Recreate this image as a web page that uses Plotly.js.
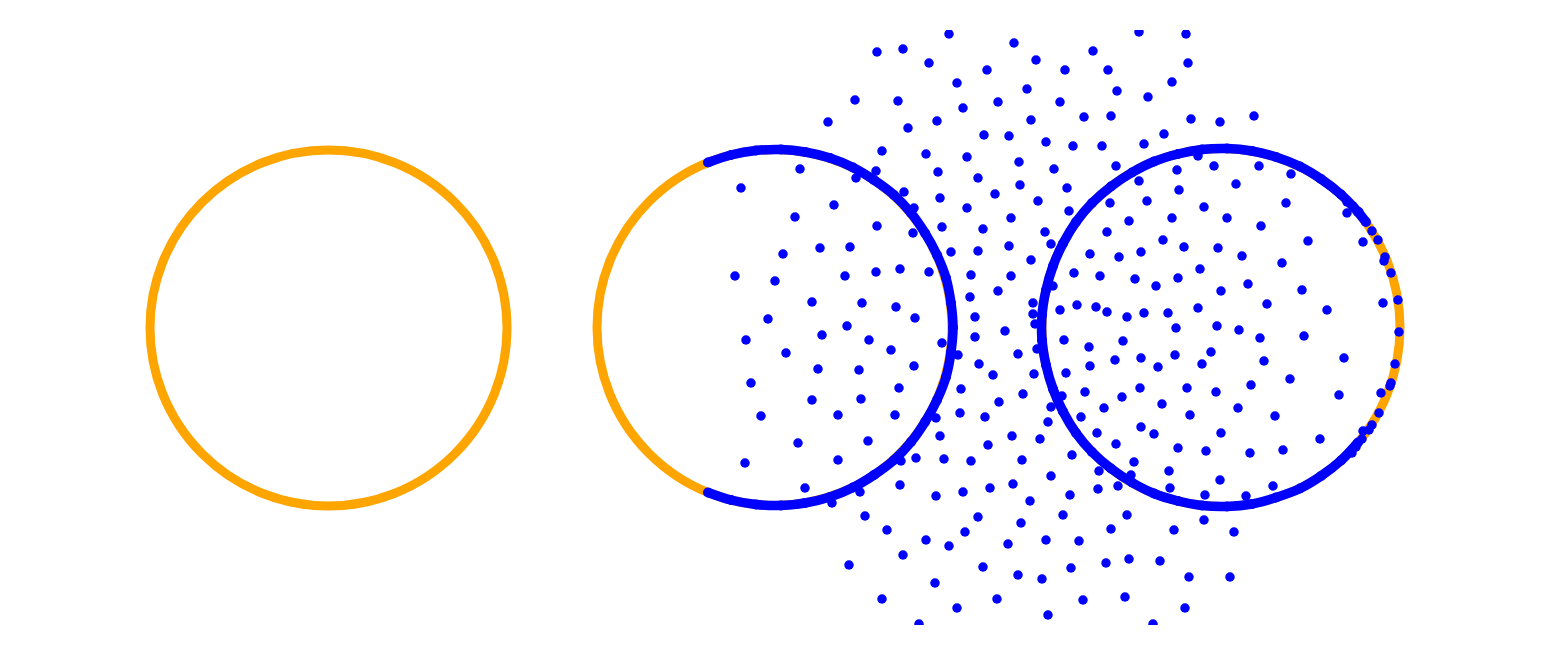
<!DOCTYPE html>
<html>
<head>
<meta charset="utf-8">
<script src="https://cdn.plot.ly/plotly-3.0.1.min.js"></script>
<style>html,body{margin:0;padding:0;background:#fff;}#chart{width:1548px;height:655px;}</style>
</head>
<body>
<div id="chart"></div>
<script>
// Orange rings: extents (chart units)
const ringLeft   = [150, 597, 1042];
const ringRight  = [507, 952, 1400];
const ringTop    = [150, 149.5, 148.5];
const ringBottom = [506, 505.5, 506.5];

// Blue dense band along ring 2
const arc2X = [708,731,756,781,805,830,853,874,894,911,925,937,946,951,953,951,946,937,925,911,894,874,853,830,805,781,756,731,708];
const arc2Y = [162.5,155,150.5,149.5,152,158,167.5,180,195,213,233,255,278,303,327.5,352,377,400,422,442,460,475,487.5,497,503,505.5,504.5,500,492.5];

// Blue dense band along ring 3
const arc3X = [1366,1358,1341,1321,1300,1276,1252,1227,1202,1178,1154,1132,1111,1092,1076,1063,1053,1046,1042,1042,1046,1053,1063,1076,1092,1111,1132,1154,1178,1202,1227,1252,1276,1300,1321,1341,1358];
const arc3Y = [222,212,194.5,179,166.5,157,151,148.5,149.5,154,161.5,172.5,186.5,203,222,243.5,266,290,315,340,365,389,411.5,433,452,468.5,482.5,493.5,501,505.5,506.5,504,497.5,488.5,476,460.5,442.5];

// Scattered blue points
const ptX = [877,903,929,855,898,828,908,882,926,800,876,856,904,741,834,914,795,877,
949,1014,1139,1093,987,1036,1065,1108,957,1027,1117,1148,998,1060,963,937,1031,1084,1111,984,1009,1046,1073,1102,1144,1164,967,1019,938,978,1054,1116,1020,995,1067,1139,940,1038,1110,1147,967,1069,1011,1129,942,983,1045,1107,
1186,1188,1172,1191,1220,1254,1198,1177,1214,1259,1291,1236,1179,1204,1286,1347,1172,1227,1261,
913,783,820,850,735,775,845,876,900,929,812,862,896,768,915,847,822,869,746,786,891,818,859,914,751,899,812,861,761,838,895,
1163,951,978,1009,1031,1051,1090,1119,1141,971,1011,1074,1100,1135,1156,998,970,1053,1077,1096,1107,1127,1144,1168,1033,1033,1035,1060,975,1005,975,1064,1123,1089,942,1018,958,1037,1115,1141,1175,1158,979,993,1034,1090,1066,961,1023,1085,1140,1122,1162,999,1062,1104,960,985,1051,1048,1081,936,1141,1154,1097,1012,940,1040,
1184,1218,1242,1282,1308,1363,1200,1178,1221,1248,1302,1198,1267,1327,1383,1176,1217,1239,1260,1304,1211,1202,1264,1344,1290,1187,1216,1251,1339,1238,1190,1275,1221,1320,
1359,1365,1372,1378,1385,1384,1391,1398,1399,1395,1391,1390,1381,1379,1372,1369,1363,1362,1356,1352,1347,1353,
798,868,745,838,901,916,805,860,832,900,936,865,887,926,903,849,935,882,919,
988,1178,1116,944,971,1022,1072,1134,1099,1051,1169,1131,1118,1098,1170,963,990,1013,1070,1030,978,1021,1063,1127,1111,1174,965,949,1008,1046,1079,983,1018,1042,1071,1106,1129,1160,997,1083,1125,957,1048,1153,
1206,1250,1283,1220,1273,1205,1246,1204,1234,1189,1230,1185];
const ptY = [52,49,63,100,101,122,128,151,154,169,171,178,192,188,205,208,217,226,
34,43,32,51,70,60,70,70,83,89,91,97,102,102,108,121,120,117,116,135,136,142,146,146,144,134,157,162,172,178,169,166,185,194,188,181,198,201,203,201,208,211,218,221,227,229,232,232,
34,63,82,119,122,116,156,170,166,166,174,184,190,207,203,213,218,218,226,
233,254,248,247,276,281,276,272,269,272,302,303,307,319,318,326,335,340,340,353,350,369,370,366,383,388,400,399,416,415,415,
240,252,251,246,260,244,254,257,252,275,276,273,276,279,286,291,297,286,305,307,312,317,313,313,303,314,324,310,317,331,337,340,341,347,343,354,355,349,360,358,355,367,364,375,374,366,373,389,394,392,388,397,404,402,396,408,413,417,407,422,417,418,427,434,433,436,436,439,
247,248,256,263,241,242,269,278,291,284,290,308,304,310,303,328,326,330,338,336,352,364,361,358,379,388,392,385,395,408,415,416,433,439,
212,221,231,240,257,261,273,300,332,364,383,386,393,413,425,430,431,439,447,453,202,206,
443,441,463,460,461,458,488,492,503,485,496,516,530,540,555,565,583,599,624,
445,448,444,459,461,460,455,462,471,476,471,475,486,489,488,492,488,484,495,501,517,523,515,515,529,530,532,546,544,540,541,567,575,579,568,563,559,561,599,600,597,608,615,624,
451,453,450,480,486,495,496,520,532,577,577,608];

const ORANGE = '#FFA500';
const BLUE = '#0000FF';

const shapes = ringLeft.map((l, i) => ({
  type: 'circle', xref: 'x', yref: 'y', layer: 'below',
  x0: l, x1: ringRight[i], y0: ringTop[i], y1: ringBottom[i],
  line: {color: ORANGE, width: 9}, fillcolor: 'rgba(0,0,0,0)'
}));

const traces = [
  {x: arc2X, y: arc2Y, type: 'scatter', mode: 'lines+markers',
   line: {color: BLUE, width: 9.5, shape: 'spline'}, marker: {color: BLUE, size: 10}, hoverinfo: 'skip'},
  {x: arc3X, y: arc3Y, type: 'scatter', mode: 'lines+markers',
   line: {color: BLUE, width: 9.5, shape: 'spline'}, marker: {color: BLUE, size: 10}, hoverinfo: 'skip'},
  {x: ptX, y: ptY, type: 'scatter', mode: 'markers',
   marker: {color: BLUE, size: 9.5}, hoverinfo: 'skip'}
];

const layout = {
  width: 1548, height: 655,
  margin: {l: 80, r: 80, t: 30, b: 30},
  paper_bgcolor: '#ffffff', plot_bgcolor: '#ffffff',
  showlegend: false,
  xaxis: {range: [80, 1468], visible: false, fixedrange: true},
  yaxis: {range: [625, 30], visible: false, fixedrange: true},
  shapes: shapes
};

Plotly.newPlot('chart', traces, layout, {displayModeBar: false, staticPlot: true});
</script>
</body>
</html>
